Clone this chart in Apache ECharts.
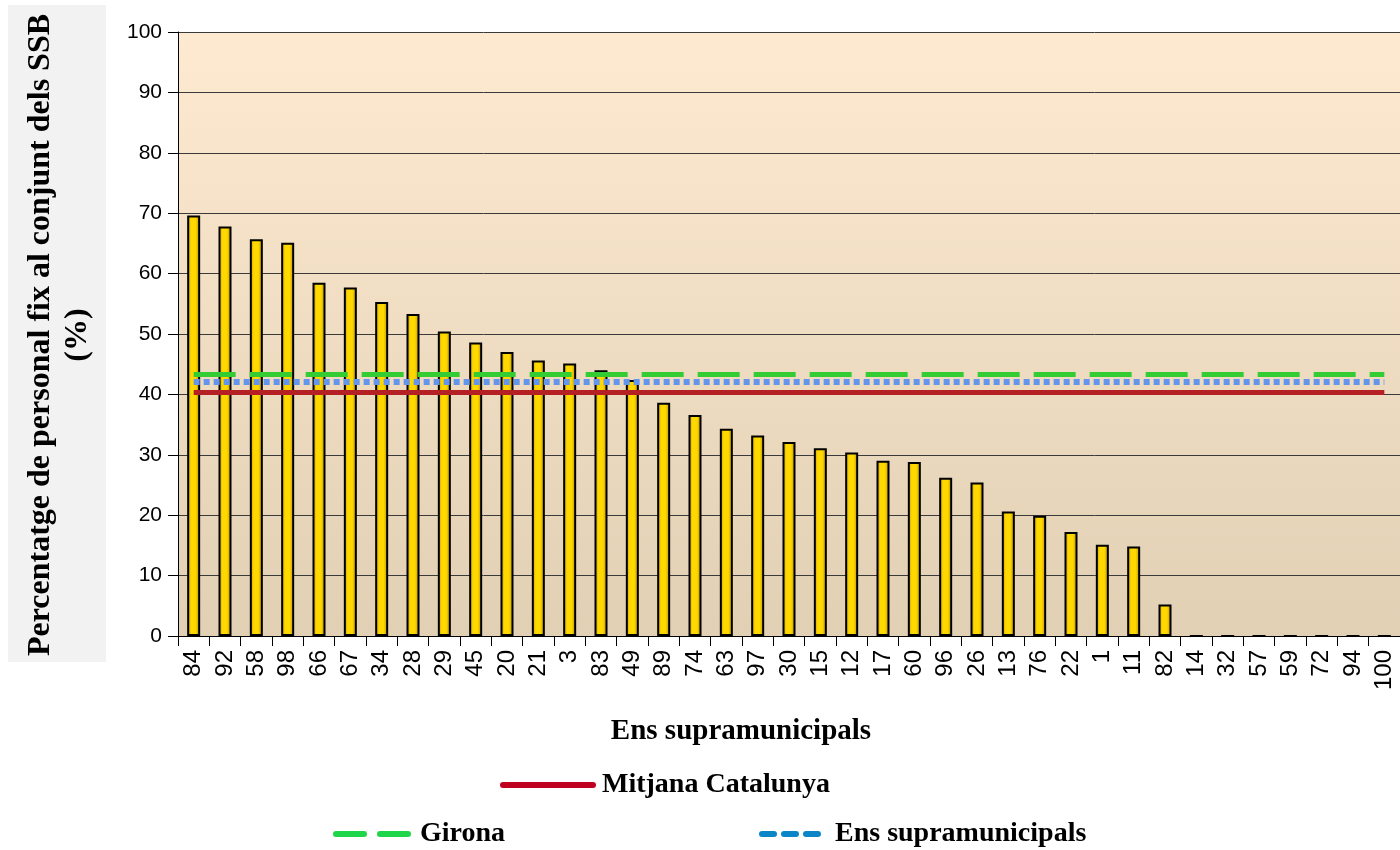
<!DOCTYPE html>
<html>
<head>
<meta charset="utf-8">
<script src="https://cdn.jsdelivr.net/npm/echarts@6/dist/echarts.min.js"></script>
<style>
  html, body { margin: 0; padding: 0; background: #fff; }
  #chart { width: 1400px; height: 850px; }
</style>
</head>
<body>
<div id="chart"></div>
<script>
// ens supramunicipals, ordenats de major a menor
const categories = ['84', '92', '58', '98', '66', '67', '34', '28', '29', '45', '20', '21', '3', '83', '49',
  '89', '74', '63', '97', '30', '15', '12', '17', '60', '96', '26', '13', '76', '22', '1', '11', '82',
  '14', '32', '57', '59', '72', '94', '100']
const values = [69.6, 67.8, 65.7, 65.1, 58.5, 57.7, 55.3, 53.3, 50.4, 48.6, 47.0, 45.6, 45.1, 44.0, 42.4,
  38.6, 36.6, 34.3, 33.2, 32.1, 31.1, 30.4, 29.0, 28.8, 26.2, 25.4, 20.6, 19.9, 17.2, 15.1, 14.8, 5.2,
  0, 0, 0, 0, 0, 0, 0]
const mitjanaCatalunya = 40.3
const mitjanaGirona = 43.3
const mitjanaEns = 42.05
const yTicks = [0, 10, 20, 30, 40, 50, 60, 70, 80, 90, 100]

const serif = '"Liberation Serif", "DejaVu Serif", serif'
const sans = '"Liberation Sans", Arial, sans-serif'

const chart = echarts.init(document.getElementById('chart'))

const flat = v => categories.map(() => v)

const legendText = { fontFamily: serif, fontWeight: 'bold', fontSize: 28, color: '#000' }

chart.setOption({
  animation: false,
  grid: {
    left: 178,
    right: 0,
    top: 32,
    bottom: 214,
    show: true,
    borderWidth: 0,
    backgroundColor: new echarts.graphic.LinearGradient(0, 0, 0, 1, [
      { offset: 0, color: '#fdead0' },
      { offset: 1, color: '#e2d0b5' }
    ])
  },
  graphic: [
    {
      type: 'rect',
      z: -1,
      shape: { x: 8, y: 5, width: 98, height: 657 },
      style: { fill: '#f2f2f2' }
    },
    {
      type: 'text',
      x: 59,
      y: 335,
      rotation: Math.PI / 2,
      style: {
        text: 'Percentatge de personal fix al conjunt dels SSB\n(%)',
        font: 'bold 32px ' + serif,
        lineHeight: 37,
        align: 'center',
        verticalAlign: 'middle',
        fill: '#000'
      }
    },
    {
      type: 'text',
      x: 741,
      y: 732,
      style: {
        text: 'Ens supramunicipals',
        font: 'bold 29px ' + serif,
        align: 'center',
        verticalAlign: 'middle',
        fill: '#000'
      }
    }
  ],
  legend: [
    {
      data: ['Mitjana Catalunya'],
      left: 495,
      top: 766,
      itemWidth: 90,
      itemHeight: 28,
      itemStyle: { opacity: 0 },
      textStyle: Object.assign({ padding: [0, 0, 0, 4] }, legendText),
      lineStyle: { color: '#c00020', width: 6, type: 'solid', cap: 'round' }
    },
    {
      data: ['Girona'],
      left: 328,
      top: 815,
      itemWidth: 72,
      itemHeight: 28,
      itemStyle: { opacity: 0 },
      textStyle: Object.assign({ padding: [0, 0, 0, 7] }, legendText),
      lineStyle: { color: '#1fd54a', width: 6, type: [28, 16], cap: 'round' }
    },
    {
      data: ['Ens supramunicipals'],
      left: 754,
      top: 815,
      itemWidth: 56,
      itemHeight: 28,
      itemStyle: { opacity: 0 },
      textStyle: Object.assign({ padding: [0, 0, 0, 12] }, legendText),
      lineStyle: { color: '#0a86c8', width: 6, type: [12, 10], cap: 'round' }
    }
  ],
  xAxis: {
    type: 'category',
    data: categories,
    axisLine: { lineStyle: { color: '#000', width: 1 } },
    axisTick: { show: true, length: 10, lineStyle: { color: '#000' } },
    axisLabel: {
      rotate: 90,
      interval: 0,
      margin: 14,
      color: '#000',
      fontFamily: sans,
      fontSize: 24
    },
    splitLine: { show: false }
  },
  yAxis: {
    type: 'value',
    min: yTicks[0],
    max: yTicks[yTicks.length - 1],
    interval: 10,
    axisLine: { show: true, lineStyle: { color: '#000', width: 1 } },
    axisTick: { show: true, length: 10, lineStyle: { color: '#000' } },
    axisLabel: {
      margin: 16,
      color: '#000',
      fontFamily: sans,
      fontSize: 21
    },
    splitLine: { show: true, lineStyle: { color: '#3a3a3a', width: 1 } }
  },
  series: [
    {
      name: 'Valors',
      type: 'bar',
      data: values,
      barWidth: 13,
      itemStyle: {
        color: new echarts.graphic.LinearGradient(0, 0, 1, 0, [
          { offset: 0, color: '#b88f00' },
          { offset: 0.3, color: '#ffd800' },
          { offset: 0.65, color: '#ffd800' },
          { offset: 1, color: '#b08800' }
        ]),
        borderColor: '#000',
        borderWidth: 2
      }
    },
    {
      name: 'Mitjana Catalunya',
      type: 'line',
      data: flat(mitjanaCatalunya),
      symbol: 'none',
      z: 5,
      itemStyle: { color: '#b52025' },
      lineStyle: { color: '#b52025', width: 5 }
    },
    {
      name: 'Ens supramunicipals',
      type: 'line',
      data: flat(mitjanaEns),
      symbol: 'none',
      z: 6,
      itemStyle: { color: '#6495ed' },
      lineStyle: { color: '#6495ed', width: 6, type: [6, 4] }
    },
    {
      name: 'Girona',
      type: 'line',
      data: flat(mitjanaGirona),
      symbol: 'none',
      z: 7,
      itemStyle: { color: '#33cc33' },
      lineStyle: { color: '#33cc33', width: 5, type: [42, 14] }
    }
  ]
})
</script>
</body>
</html>
